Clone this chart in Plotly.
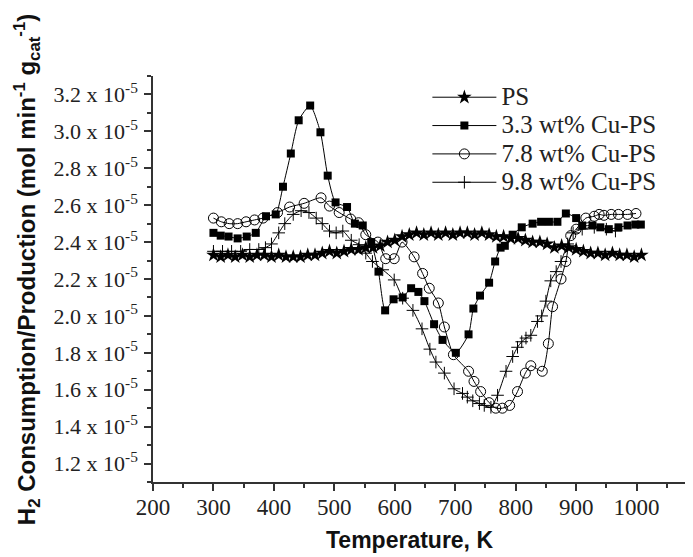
import plotly.graph_objects as go

# temperature (K) and H2 rate (units of 1e-5 mol min-1 gcat-1)
ps_temp = [300, 312, 324, 336, 348, 360, 372, 384, 396, 408, 420, 432, 444, 456, 468,
           480, 492, 504, 516, 528, 540, 552, 564, 576, 588, 600, 612, 624, 636, 648,
           660, 672, 684, 696, 708, 720, 732, 744, 756, 768, 780, 792, 804, 816, 828,
           840, 852, 864, 876, 888, 900, 912, 924, 936, 948, 960, 972, 984, 996, 1008]
ps_rate = [2.33, 2.32, 2.33, 2.32, 2.33, 2.32, 2.33, 2.33, 2.32, 2.33, 2.32, 2.32, 2.32, 2.33, 2.33,
           2.34, 2.35, 2.34, 2.35, 2.36, 2.36, 2.37, 2.37, 2.38, 2.40, 2.41, 2.43, 2.44, 2.45, 2.44,
           2.45, 2.44, 2.45, 2.44, 2.45, 2.45, 2.44, 2.45, 2.44, 2.43, 2.43, 2.42, 2.42, 2.41, 2.40,
           2.40, 2.39, 2.37, 2.38, 2.37, 2.36, 2.35, 2.34, 2.34, 2.33, 2.34, 2.33, 2.33, 2.32, 2.33]

cu33_temp = [300, 312, 325, 340, 355, 370, 387, 403, 415, 428, 441, 460, 477, 489, 502, 521,
             534, 547, 561, 573, 584, 598, 613, 627, 639, 649, 665, 679, 701, 722, 730, 741,
             756, 766, 775, 782, 795, 810, 828, 842, 855, 869, 883, 900, 910, 927, 940, 954,
             970, 985, 998, 1007]
cu33_rate = [2.45, 2.435, 2.43, 2.42, 2.43, 2.45, 2.54, 2.55, 2.70, 2.88, 3.06, 3.14, 2.995, 2.76, 2.615, 2.59,
             2.50, 2.49, 2.40, 2.24, 2.03, 2.09, 2.10, 2.15, 2.13, 2.08, 1.955, 1.87, 1.80, 1.90, 2.04, 2.11,
             2.18, 2.295, 2.37, 2.38, 2.44, 2.48, 2.50, 2.51, 2.51, 2.51, 2.555, 2.53, 2.49, 2.49, 2.48, 2.47,
             2.48, 2.49, 2.495, 2.495]

cu78_temp = [300, 313, 326, 340, 354, 368, 382, 406, 426, 450, 478, 492, 508, 527, 540, 552,
             572, 585, 599, 612, 632, 646, 657, 672, 682, 697, 722, 731, 742, 756, 767, 778,
             790, 803, 816, 825, 844, 854, 861, 875, 883, 891, 900, 916, 930, 938, 946, 958,
             970, 985, 999]
cu78_rate = [2.53, 2.51, 2.50, 2.50, 2.51, 2.52, 2.53, 2.56, 2.59, 2.61, 2.64, 2.595, 2.56, 2.525, 2.505, 2.44,
             2.40, 2.31, 2.31, 2.40, 2.32, 2.23, 2.15, 2.07, 1.94, 1.79, 1.70, 1.645, 1.59, 1.53, 1.50, 1.50,
             1.515, 1.59, 1.69, 1.73, 1.70, 1.85, 2.05, 2.20, 2.295, 2.435, 2.47, 2.53, 2.54, 2.55, 2.545, 2.55,
             2.55, 2.55, 2.555]

cu98_temp = [300, 315, 330, 345, 360, 375, 386, 396, 408, 418, 432, 445, 458, 470, 480, 492,
             503, 514, 528, 541, 552, 563, 580, 599, 613, 630, 645, 658, 668, 682, 698, 712,
             720, 729, 740, 748, 759, 770, 784, 795, 803, 810, 817, 825, 836, 843, 850, 858,
             867, 875, 886, 895, 910, 930, 950, 965]
cu98_rate = [2.35, 2.35, 2.35, 2.35, 2.36, 2.36, 2.37, 2.39, 2.45, 2.50, 2.55, 2.57, 2.56, 2.53, 2.50, 2.46,
             2.45, 2.46, 2.41, 2.386, 2.34, 2.295, 2.25, 2.195, 2.096, 2.03, 1.93, 1.82, 1.75, 1.69, 1.605, 1.58,
             1.56, 1.54, 1.525, 1.515, 1.505, 1.57, 1.70, 1.78, 1.83, 1.86, 1.88, 1.895, 1.97, 2.00, 2.08, 2.19,
             2.24, 2.295, 2.39, 2.45, 2.47, 2.48, 2.47, 2.46]

y_ticks = [1.2, 1.4, 1.6, 1.8, 2.0, 2.2, 2.4, 2.6, 2.8, 3.0, 3.2]
x_ticks = [200, 300, 400, 500, 600, 700, 800, 900, 1000]

serif = "Liberation Serif, Times New Roman, serif"
sans = "Liberation Sans, Arial, sans-serif"
line = dict(color="black", width=1, shape="spline", smoothing=0.6)


def big(name):
    # legend row height follows legend.font.size, so the text is enlarged with a span
    return f'<span style="font-size:25px">{name}</span>'


fig = go.Figure()
fig.add_trace(go.Scatter(x=ps_temp, y=ps_rate, name=big("PS"), mode="lines+markers", line=line,
                         marker=dict(symbol="star", size=11, color="black")))
fig.add_trace(go.Scatter(x=cu33_temp, y=cu33_rate, name=big("3.3 wt% Cu-PS"), mode="lines+markers", line=line,
                         marker=dict(symbol="square", size=8, color="black")))
fig.add_trace(go.Scatter(x=cu78_temp, y=cu78_rate, name=big("7.8 wt% Cu-PS"), mode="lines+markers", line=line,
                         marker=dict(symbol="circle-open", size=10, color="black", line=dict(width=1))))
fig.add_trace(go.Scatter(x=cu98_temp, y=cu98_rate, name=big("9.8 wt% Cu-PS"), mode="lines+markers", line=line,
                         marker=dict(symbol="cross-thin-open", size=9, color="black", line=dict(width=1))))

axis_common = dict(showline=True, linecolor="#333", linewidth=1.5, ticks="outside", ticklen=7,
                   tickcolor="#333", tickwidth=1.5, showgrid=False, zeroline=False, mirror=False)

fig.update_xaxes(range=[200, 1090], tickvals=x_ticks,
                 tickfont=dict(family=serif, size=23, color="#222"), ticklabelstandoff=-3,
                 minor=dict(ticks="outside", ticklen=4, tickcolor="#333", dtick=50, tick0=200),
                 **axis_common)
fig.update_yaxes(range=[1.1, 3.3], tickvals=y_ticks,
                 ticktext=[f"{v:.1f} x 10<sup>-5</sup>" for v in y_ticks],
                 tickfont=dict(family=serif, size=22, color="#222"), ticklabelstandoff=2,
                 minor=dict(ticks="outside", ticklen=4, tickcolor="#333", dtick=0.1, tick0=1.1),
                 **axis_common)

# axis titles as annotations so they sit where the original has them
fig.add_annotation(text="<b>Temperature, K</b>", xref="paper", yref="paper", x=0.476, y=-0.143,
                   xanchor="center", yanchor="middle", showarrow=False,
                   font=dict(family=sans, size=23, color="#111"))
fig.add_annotation(text="<b>H<sub>2</sub> Consumption/Production (mol min<sup>-1</sup> g<sub>cat</sub><sup>-1</sup>)</b>",
                   xref="paper", yref="paper", x=-0.234, y=0.522, textangle=-90,
                   xanchor="center", yanchor="middle", showarrow=False,
                   font=dict(family=sans, size=24, color="#111"))

# page body adds an 8px margin, so the figure is 8px smaller and margins shifted
fig.update_layout(
    width=685, height=549,
    margin=dict(l=145, r=2, t=68, b=75),
    plot_bgcolor="white", paper_bgcolor="white",
    showlegend=True,
    legend=dict(x=0.510, y=0.995, xanchor="left", yanchor="top", bgcolor="rgba(0,0,0,0)",
                font=dict(family=serif, size=19.5, color="#222"), itemwidth=64, tracegroupgap=0),
)

fig.write_html("out.html")
